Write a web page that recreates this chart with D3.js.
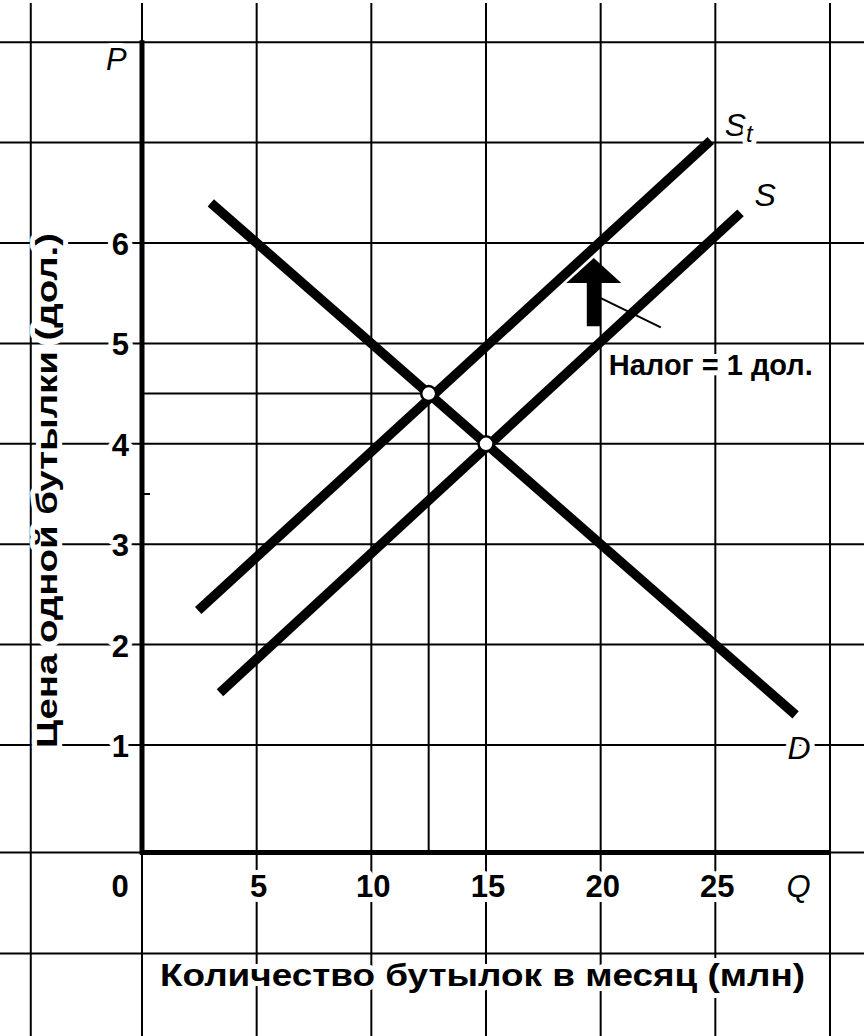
<!DOCTYPE html>
<html><head><meta charset="utf-8">
<script src="https://cdn.jsdelivr.net/npm/d3@7"></script>
<style>
html,body{margin:0;padding:0;background:#fff;}
svg{display:block;}
text{font-family:"Liberation Sans",Arial,Helvetica,sans-serif;fill:#000;}
</style></head>
<body>
<svg id="chart" width="864" height="1036"></svg>
<script>
// ---- data ----
const qTicks = [0, 5, 10, 15, 20, 25];
const pTicks = [1, 2, 3, 4, 5, 6];
const gridQ = [-4.85, 0, 5, 10, 15, 20, 25, 30];
const gridP = [1, 2, 3, 4, 5, 6, 7, 8];
const demand = [{q: 3.0, p: 6.4}, {q: 28.5, p: 1.3}];
const supply = [{q: 3.4, p: 1.52}, {q: 26.1, p: 6.3}];
const supplyTax = [{q: 2.45, p: 2.34}, {q: 24.8, p: 7.02}];
const equilibria = [{q: 12.5, p: 4.5}, {q: 15, p: 4}];
const taxArrowQ = 19.7;
const taxArrowP = [5.17, 5.85];
const minorTicksP = [3.5];
const curveLabels = [
  {name: "S", sub: "t", at: supplyTax[1]},
  {name: "S", sub: "", at: supply[1]},
  {name: "D", sub: "", at: demand[1]}
];
const texts = {
  yTitle: "Цена одной бутылки  (дол.)",
  xTitle: "Количество бутылок в месяц  (млн)",
  tax: "Налог = 1 дол.",
  p: "P", q: "Q"
};

// ---- layout ----
const W = 864, H = 1036;
const svg = d3.select("#chart");
const x = d3.scaleLinear().domain([0, 30]).range([142, 830]);
const y = d3.scaleLinear().domain([1, 6]).range([745, 243]);
const axisY = y(0) + 7;          // drawn baseline of the Q axis
const bottomGridY = axisY + 101; // extra grid row below the axis

// grid
const grid = svg.append("g").attr("stroke", "#000").attr("stroke-width", 2);
grid.selectAll("line.v").data(gridQ).join("line")
  .attr("x1", d => x(d)).attr("x2", d => x(d)).attr("y1", 3).attr("y2", H);
grid.selectAll("line.h").data(gridP).join("line")
  .attr("x1", 0).attr("x2", W).attr("y1", d => y(d)).attr("y2", d => y(d));
grid.append("line").attr("x1", 0).attr("x2", W).attr("y1", axisY).attr("y2", axisY);
grid.append("line").attr("x1", 0).attr("x2", W).attr("y1", bottomGridY).attr("y2", bottomGridY);

// white-backed labels helper
function label(g, t) {
  return g.append("text").text(t)
    .attr("stroke", "#fff").attr("stroke-width", 10).attr("paint-order", "stroke")
    .attr("stroke-linejoin", "round");
}

// Q axis tick labels
const xt = svg.append("g").attr("font-size", 31).attr("font-weight", "bold").attr("text-anchor", "middle");
qTicks.forEach(d => {
  label(xt, d).attr("x", d === 0 ? x(d) - 22 : x(d) + 2).attr("y", axisY + 45);
});
// P axis tick labels
const yt = svg.append("g").attr("font-size", 31).attr("font-weight", "bold").attr("text-anchor", "end");
pTicks.forEach(d => {
  label(yt, d).attr("x", x(0) - 13).attr("y", y(d) + 12);
});

// axes (thick)
svg.append("line").attr("x1", x(0)).attr("x2", x(0)).attr("y1", y(8) - 2).attr("y2", axisY + 2)
  .attr("stroke", "#000").attr("stroke-width", 5);
svg.append("line").attr("x1", x(0) - 2).attr("x2", x(30)).attr("y1", axisY).attr("y2", axisY)
  .attr("stroke", "#000").attr("stroke-width", 5);
svg.selectAll("line.minor").data(minorTicksP).join("line")
  .attr("x1", x(0)).attr("x2", x(0) + 8).attr("y1", d => y(d)).attr("y2", d => y(d))
  .attr("stroke", "#000").attr("stroke-width", 2);

// drop lines from taxed equilibrium
const eq = equilibria[0];
svg.append("line").attr("x1", x(0)).attr("x2", x(eq.q)).attr("y1", y(eq.p)).attr("y2", y(eq.p))
  .attr("stroke", "#000").attr("stroke-width", 2);
svg.append("line").attr("x1", x(eq.q)).attr("x2", x(eq.q)).attr("y1", y(eq.p)).attr("y2", axisY)
  .attr("stroke", "#000").attr("stroke-width", 2);

// curves
const line = d3.line().x(d => x(d.q)).y(d => y(d.p));
[demand, supply, supplyTax].forEach(c => {
  svg.append("path").attr("d", line(c)).attr("fill", "none")
    .attr("stroke", "#000").attr("stroke-width", 9.5).attr("stroke-linecap", "butt");
});

// equilibrium circles
svg.selectAll("circle.eq").data(equilibria).join("circle")
  .attr("cx", d => x(d.q)).attr("cy", d => y(d.p)).attr("r", 7.5)
  .attr("fill", "#fff").attr("stroke", "#000").attr("stroke-width", 2.5);

// tax arrow
const ax = x(taxArrowQ), yb = y(taxArrowP[0]), ytop = y(taxArrowP[1]);
const headH = 25, headHalf = 27.5, shaftHalf = 7;
svg.append("path").attr("fill", "#000").attr("d",
  `M${ax - shaftHalf},${yb} L${ax - shaftHalf},${ytop + headH} L${ax - headHalf},${ytop + headH}
   L${ax},${ytop} L${ax + headHalf},${ytop + headH} L${ax + shaftHalf},${ytop + headH}
   L${ax + shaftHalf},${yb} Z`);
// leader line
svg.append("line").attr("x1", ax + shaftHalf).attr("y1", y(5.45)).attr("x2", ax + 67).attr("y2", y(5.16))
  .attr("stroke", "#000").attr("stroke-width", 2);
label(svg, texts.tax).attr("x", ax + 15).attr("y", y(5.0) + 32)
  .attr("font-size", 29).attr("font-weight", "bold");

// curve labels
const offs = [[14, -5], [14, -7], [-8, 44]];
curveLabels.forEach((c, i) => {
  const t = label(svg, "").attr("x", x(c.at.q) + offs[i][0]).attr("y", y(c.at.p) + offs[i][1])
    .attr("font-size", 32).attr("font-style", "italic");
  t.append("tspan").text(c.name);
  if (c.sub) t.append("tspan").text(c.sub).attr("font-size", 24).attr("dy", 6);
});

// axis letters
label(svg, texts.p).attr("x", x(0) - 36).attr("y", y(7.72)).attr("font-size", 31).attr("font-style", "italic");
label(svg, texts.q).attr("x", x(28.1)).attr("y", axisY + 45).attr("font-size", 31).attr("font-style", "italic");

// axis titles
label(svg, texts.xTitle).attr("x", 160).attr("y", axisY + 134)
  .attr("font-size", 32).attr("font-weight", "bold")
  .attr("textLength", 645).attr("lengthAdjust", "spacingAndGlyphs");
label(svg, texts.yTitle)
  .attr("transform", `translate(57, 748) rotate(-90)`)
  .attr("font-size", 30).attr("font-weight", "bold")
  .attr("textLength", 515).attr("lengthAdjust", "spacingAndGlyphs");
</script>
</body></html>
